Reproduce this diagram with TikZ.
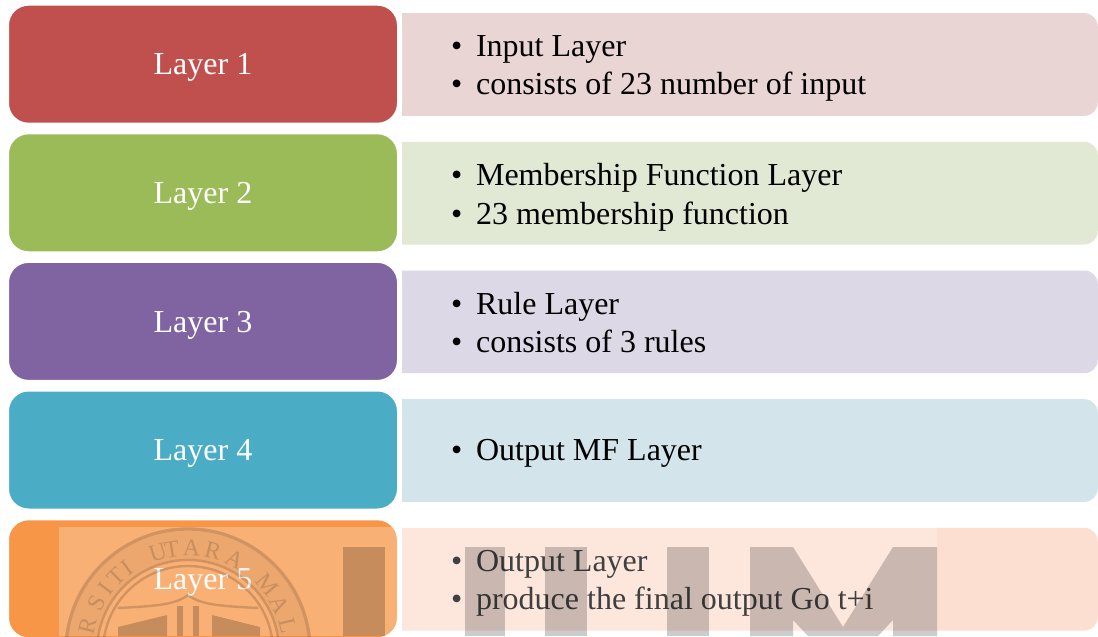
\documentclass[tikz,border=0pt]{standalone}
\usepackage{fontspec}
\setmainfont{Liberation Serif}
\usetikzlibrary{positioning}
\definecolor{layerred}{HTML}{C0504D}
\definecolor{layergreen}{HTML}{9BBB59}
\definecolor{layerpurple}{HTML}{8064A2}
\definecolor{layerblue}{HTML}{4BACC6}
\definecolor{layerorange}{HTML}{F79646}
\definecolor{panelred}{HTML}{EAD5D5}
\definecolor{panelgreen}{HTML}{E1E9D5}
\definecolor{panelpurple}{HTML}{DCD8E5}
\definecolor{panelblue}{HTML}{D3E4EA}
\definecolor{panelorange}{HTML}{FDDFD1}
\newcommand{\itm}{\spaceskip=6pt\relax\makebox[18.75pt][l]{\textbullet}}
\tikzset {
layerbox/.style={shape=rectangle,draw=white,line width=3.75pt,rounded corners=16.5pt,text=white,minimum width=294.75pt,minimum height=91.5pt,text depth=0pt,font=\fontsize{24}{29}\selectfont},
panelbox/.style={shape=rectangle,rounded corners=10pt,minimum width=536pt,minimum height=77pt,align=left,text depth=28pt,font=\fontsize{24}{29}\selectfont,text width=434pt,inner xsep=51pt,inner ysep=0pt},
veil/.style={fill=white,opacity=.25},
wmark/.style={fill=black,opacity=.2},
wline/.style={draw=black,opacity=.16},
sealletter/.style={text=black,opacity=.15,font=\fontsize{18}{18}\selectfont,inner sep=0pt}
}
\begin{document}
\begin{tikzpicture}[x=0.75pt,y=-0.75pt]
\useasboundingbox (0,0) rectangle (1098,636);
\clip (0,0) rectangle (1098,636);
\node[panelbox,fill=panelred,anchor=east] (panel1) at (1098,64.5) {\itm Input Layer\\\itm consists of 23 number of input};
\node[panelbox,fill=panelgreen] (panel2) [below=19.1pt of panel1] {\itm Membership Function Layer\\\itm 23 membership function};
\node[panelbox,fill=panelpurple] (panel3) [below=19.1pt of panel2] {\itm Rule Layer\\\itm consists of 3 rules};
\node[panelbox,fill=panelblue,text depth=1.5pt] (panel4) [below=19.1pt of panel3] {\itm Output MF Layer};
\node[panelbox,fill=panelorange] (panel5) [below=19.1pt of panel4] {\itm Output Layer\\\itm produce the final output Go t+i};
% square off the left side of the panels
\fill[white] (380,0) rectangle (402,636);
\node[layerbox,fill=layerred] (layer1) at (203,64.2) {Layer 1};
\node[layerbox,fill=layergreen] (layer2) at (203,192.8) {Layer 2};
\node[layerbox,fill=layerpurple] (layer3) at (203,321.4) {Layer 3};
\node[layerbox,fill=layerblue] (layer4) at (203,450) {Layer 4};
\node[layerbox,fill=layerorange] (layer5) at (203,578.8) {Layer 5};
% watermark
\fill[veil] (59,527) rectangle (937,636);
\fill[wmark] (343,547) rectangle (385,636);
\fill[wmark] (465,547) rectangle (505,636);
\fill[wmark] (545,547) rectangle (587,636);
\fill[wmark] (667,547) rectangle (709,636);
\fill[wmark] (750,547) -- (793,547) -- (843,627) -- (893,547) -- (937,547) -- (937,636) -- (893,636) -- (893,620) -- (878,636) -- (808,636) -- (793,620) -- (793,636) -- (750,636) -- cycle;
% seal
\begin{scope}[shift={(188,651)}]
\draw[wline,line width=2.5pt] (0,0) circle (122);
\fill[black,opacity=.05,even odd rule] (0,0) circle (120) (0,0) circle (92);
\draw[wline,line width=1.8pt] (0,0) circle (91);
\draw[wline,line width=1.8pt] (0,0) circle (85);
\node[sealletter,rotate=76] (s1) at (-166:103) {R};
\node[sealletter,rotate=62] (s2) at (-152:103) {S};
\node[sealletter,rotate=53] (s3) at (-143:103) {I};
\node[sealletter,rotate=44] (s4) at (-134:103) {T};
\node[sealletter,rotate=36] (s5) at (-126:103) {I};
\node[sealletter,rotate=17] (s6) at (-107:103) {U};
\node[sealletter,rotate=9] (s7) at (-99:103) {T};
\node[sealletter,rotate=-2] (s8) at (-88:103) {A};
\node[sealletter,rotate=-14] (s9) at (-76:103) {R};
\node[sealletter,rotate=-27] (s10) at (-63:103) {A};
\node[sealletter,rotate=-50] (s11) at (-40:103) {M};
\node[sealletter,rotate=-63] (s12) at (-27:103) {A};
\node[sealletter,rotate=-76] (s13) at (-14:103) {L};
\end{scope}
\fill[wmark] (118,627) -- (167,615) -- (167,636) -- (118,636) -- cycle;
\fill[wmark] (212,615) -- (260,627) -- (260,636) -- (212,636) -- cycle;
\fill[wmark] (177,606) rectangle (183,636);
\fill[wmark] (193,606) rectangle (199,636);
\draw[wline,line width=1.8pt] (118,608) .. controls (155,606) and (175,605) .. (188,595) .. controls (201,605) and (221,606) .. (258,608);
\end{tikzpicture}
\end{document}
